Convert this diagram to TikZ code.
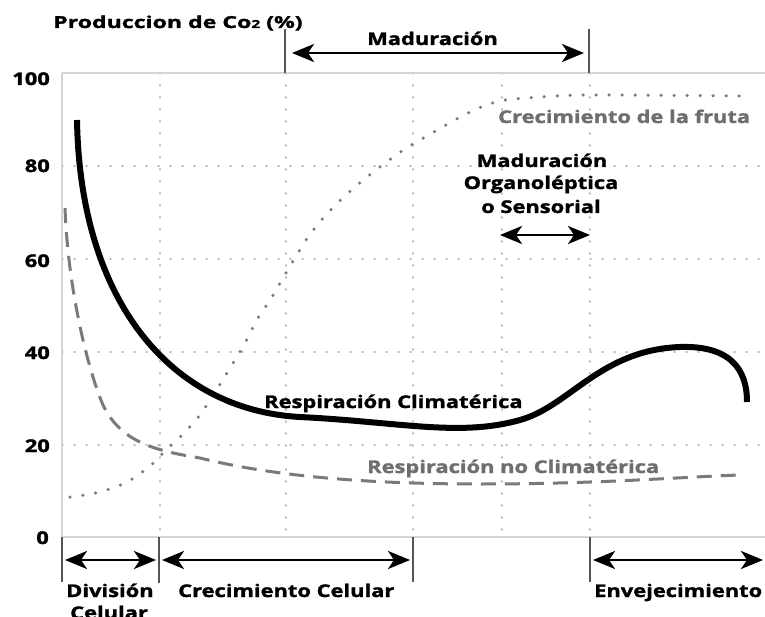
\documentclass[tikz,border=0pt]{standalone}
\usepackage{fontspec}
\setmainfont{Open Sans}[FakeStretch=1.25, BoldFeatures={FakeBold=1.6}]
\newfontfamily\titlefont{Open Sans}[FakeStretch=1.4, BoldFeatures={FakeBold=1.6}]
\usetikzlibrary{arrows.meta}
\definecolor{gridc}{HTML}{B8B8B8}
\definecolor{framec}{HTML}{D4D4D4}
\definecolor{tickc}{HTML}{555555}
\definecolor{curvegray}{HTML}{7A7A7A}
\definecolor{labgray}{HTML}{6E6E6E}
\begin{document}
\begin{tikzpicture}[x=1pt,y=-1pt,
  txt/.style={font=\fontsize{17.5}{20}\selectfont\bfseries, inner sep=0pt, text=black, anchor=base west},
  graytxt/.style={txt, text=labgray},
  ylab/.style={txt, anchor=base east},
  gdot/.style={draw=gridc, line width=1.8pt, line cap=round, dash pattern=on 1pt off 11pt},
  frameline/.style={draw=framec, line width=1.2pt},
  tickline/.style={draw=tickc, line width=1.6pt},
  tipA/.tip={Stealth[length=22pt,width=18pt,inset=6pt]},
  bigarr/.style={draw=black, line width=2.8pt, tipA-tipA},
  climat/.style={draw=black, line width=6pt},
  noclim/.style={draw=curvegray, line width=3pt, dash pattern=on 15pt off 9pt},
  fruta/.style={draw=curvegray, line width=3.5pt, line cap=round, dash pattern=on 0pt off 13pt}
]
\useasboundingbox (0,0) rectangle (765,617);
\fill[white] (0,0) rectangle (765,617);

% grid
\foreach \yy in {166,259,352,445} \draw[gdot] (62,\yy) -- (765,\yy);
\foreach \xx in {160,286,413,502,590} \draw[gdot] (\xx,73) -- (\xx,537);
\draw[frameline] (62,73) -- (765,73);
\draw[frameline] (62,537) -- (765,537);
\draw[frameline] (62,73) -- (62,537);

% y labels
\node[ylab] (y100) at (50,85) {100};
\node[ylab] (y80) at (50,172) {80};
\node[ylab] (y60) at (50,267) {60};
\node[ylab] (y40) at (50,359) {40};
\node[ylab] (y20) at (50,452) {20};
\node[ylab] (y0) at (49,544) {0};

% title
\node[txt, font=\titlefont\fontsize{16.5}{19}\selectfont\bfseries] (title) at (53,28) {Produccion de Co{\fontsize{11}{12}\selectfont 2} (\%)};

% top maduracion
\coordinate (tl1) at (285,29); \coordinate (tl2) at (285,73);
\coordinate (tr1) at (589,29); \coordinate (tr2) at (589,73);
\draw[tickline] (tl1) -- (tl2);
\draw[tickline] (tr1) -- (tr2);
\coordinate (ma) at (292,53); \coordinate (mb) at (584,53);
\draw[bigarr] (ma) -- (mb);
\node[txt] (madtop) at (367,45) {Maduración};

% curves
\draw[fruta] plot[smooth, tension=0.5] coordinates {(70,497) (100,492) (127,482) (150,466) (166,450) (182,435) (200,415) (215,392) (230,368) (245,343) (258,318) (272,297) (286,273) (308,237) (326,215) (346,195) (367,177) (402,151) (439,129) (470,112) (500,101) (540,97) (590,95) (742,96)};
\draw[noclim] (65,208) .. controls (68,290) and (88,370) .. (103,405)
  .. controls (120,440) and (150,450) .. (200,458)
  .. controls (280,478) and (380,484) .. (480,484)
  .. controls (600,484) and (680,477) .. (740,475);
\draw[climat] (77,120) .. controls (80,300) and (170,410) .. (300,417)
  .. controls (400,422) and (460,437) .. (520,420)
  .. controls (570,406) and (600,350) .. (680,347)
  .. controls (740,345) and (747,380) .. (747,402);

% labels on curves
\node[graytxt] (lfruta) at (498,123) {Crecimiento de la fruta};
\node[txt, anchor=base] (mo1) at (542,167) {Maduración};
\node[txt, anchor=base] (mo2) at (541,189) {Organoléptica};
\node[txt, anchor=base] (mo3) at (541,213) {o Sensorial};
\coordinate (oa) at (500,235); \coordinate (ob) at (590,235);
\draw[bigarr] (oa) -- (ob);
\node[txt] (lclim) at (264,408) {Respiración Climatérica};
\node[graytxt] (lnoclim) at (367,473) {Respiración no Climatérica};

% bottom phases
\coordinate (b1t) at (62,537); \coordinate (b1b) at (62,582);
\coordinate (b2t) at (159,537); \coordinate (b2b) at (159,583);
\coordinate (b3t) at (413,537); \coordinate (b3b) at (413,582);
\coordinate (b4t) at (590,537); \coordinate (b4b) at (590,582);
\draw[tickline] (b1t) -- (b1b);
\draw[tickline] (b2t) -- (b2b);
\draw[tickline] (b3t) -- (b3b);
\draw[tickline] (b4t) -- (b4b);
\coordinate (d1) at (65,560); \coordinate (d2) at (156,560);
\coordinate (c1) at (162,560); \coordinate (c2) at (410,560);
\coordinate (e1) at (593,560); \coordinate (e2) at (763,560);
\draw[bigarr] (d1) -- (d2);
\draw[bigarr] (c1) -- (c2);
\draw[bigarr] (e1) -- (e2);
\node[txt] (ldiv) at (66,597) {División};
\node[txt] (lcel) at (70,619) {Celular};
\node[txt] (lcrec) at (178,597) {Crecimiento Celular};
\node[txt] (lenv) at (594,597) {Envejecimiento};
\end{tikzpicture}
\end{document}
